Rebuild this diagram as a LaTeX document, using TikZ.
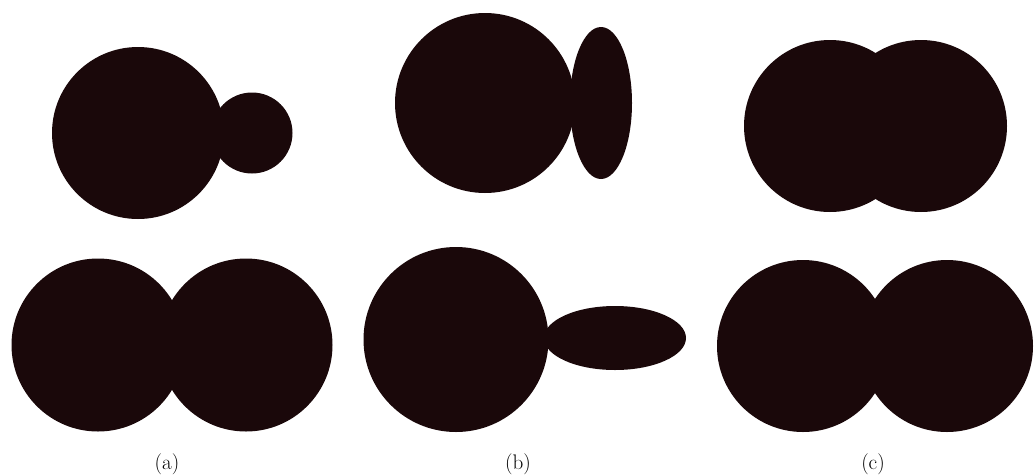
\documentclass[tikz,border=0pt]{standalone}
\definecolor{blob}{RGB}{26,8,10}
\tikzset{lbl/.style={font=\fontsize{15}{17}\selectfont, inner sep=0pt}}
\begin{document}
\begin{tikzpicture}[x=0.025cm, y=-0.025cm]

\useasboundingbox (0,0) rectangle (1034,475);

% (a) haut : grande sphere et petite sphere
\fill[blob] (138,133) circle [radius=86];
\fill[blob] (252,133) circle [radius=40.5];

% (a) bas : deux spheres egales
\fill[blob] (98,345) circle [radius=86.5];
\fill[blob] (246,345) circle [radius=86.5];

% (b) haut : sphere et ellipsoide aplati
\fill[blob] (485,103) circle [radius=90];
\fill[blob] (601,103) ellipse [x radius=31, y radius=76];

% (b) bas : sphere et ellipsoide allonge
\fill[blob] (456,339.5) circle [radius=92.5];
\fill[blob] (615,338) ellipse [x radius=71, y radius=32];

% (c) haut : deux spheres qui se recouvrent
\fill[blob] (830,126) circle [radius=86];
\fill[blob] (921,126) circle [radius=86];

% (c) bas : deux spheres qui se touchent
\fill[blob] (803,346) circle [radius=86];
\fill[blob] (947,346) circle [radius=86];

\node[lbl] (la) at (167,464) {(a)};
\node[lbl] (lb) at (518,464) {(b)};
\node[lbl] (lc) at (873,464) {(c)};

\end{tikzpicture}
\end{document}
